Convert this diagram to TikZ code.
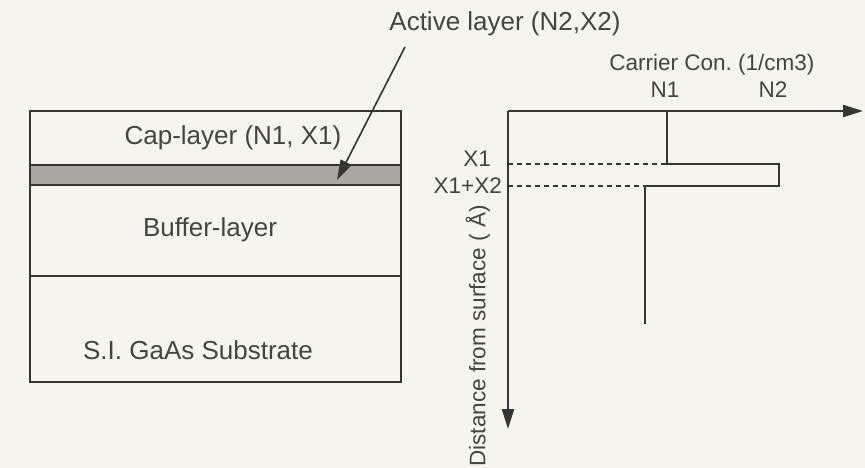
\documentclass[tikz,border=0pt]{standalone}
\usepackage{fontspec}
\setmainfont{Liberation Sans}
\usetikzlibrary{arrows.meta}
\frenchspacing
\definecolor{bgc}{HTML}{F6F4EE}
\definecolor{inkc}{HTML}{363434}
\definecolor{txtc}{HTML}{454343}
\definecolor{bandc}{HTML}{A9A8A4}
\begin{document}
\begin{tikzpicture}[x=1pt,y=-1pt,
  big/.style={text=txtc,font=\fontsize{26}{30}\selectfont,inner sep=0pt},
  small/.style={text=txtc,font=\fontsize{22.5}{26}\selectfont,inner sep=0pt},
  layerline/.style={draw=inkc,line width=1.9pt},
  axisline/.style={draw=inkc,line width=2.3pt,-{Triangle[length=20pt,width=12pt]}},
  profile/.style={draw=inkc,line width=1.9pt},
  guide/.style={draw=inkc,line width=1.4pt,dash pattern=on 5pt off 4pt}]
\fill[bgc] (0,0) rectangle (865,468);
\useasboundingbox (0,0) rectangle (865,468);
% layer stack
\fill[bandc] (30,165) rectangle (401,185);
\draw[layerline] (30,111) rectangle (401,382);
\draw[layerline] (30,165) -- (401,165);
\draw[layerline] (30,185) -- (401,185);
\draw[layerline] (30,276) -- (401,276);
\node[big] (cap) at (233,138) {Cap-layer (N1, X1)};
\node[big] (buf) at (210,230) {Buffer-layer};
\node[big] (sub) at (198,350) {S.I. GaAs Substrate};
\node[big] (act) at (505,24) {Active layer (N2,X2)};
\coordinate (actstart) at (405,47);
\coordinate (actend) at (337,180);
\draw[draw=inkc,line width=1.6pt,-{Triangle[length=20pt,width=12pt]}] (actstart) -- (actend);
% graph
\coordinate (o) at (508,111);
\coordinate (xend) at (863,111);
\coordinate (yend) at (508,429);
\coordinate (n1top) at (667,111);
\coordinate (n1x1) at (667,164);
\coordinate (n2x1) at (779,164);
\coordinate (n2x2) at (779,186);
\coordinate (bx2) at (645,186);
\coordinate (bend) at (645,324);
\coordinate (ax1) at (508,164);
\coordinate (ax2) at (508,186);
\draw[guide] (ax1) -- (n1x1);
\draw[guide] (ax2) -- (bx2);
\draw[profile] (n1top) -- (n1x1) -- (n2x1) -- (n2x2) -- (bx2) -- (bend);
\draw[axisline] (o) -- (xend);
\draw[axisline] (o) -- (yend);
\node[small] (cc) at (712,65) {Carrier Con. (1/cm3)};
\node[small] (n1) at (665,90) {N1};
\node[small] (n2) at (773,90) {N2};
\node[small,anchor=east] (lx1) at (491,159) {X1};
\node[small,anchor=east] (lx2) at (502,186) {X1+X2};
\node[small,rotate=90] (dist) at (478,336) {Distance from surface ( Å)};
\end{tikzpicture}
\end{document}
